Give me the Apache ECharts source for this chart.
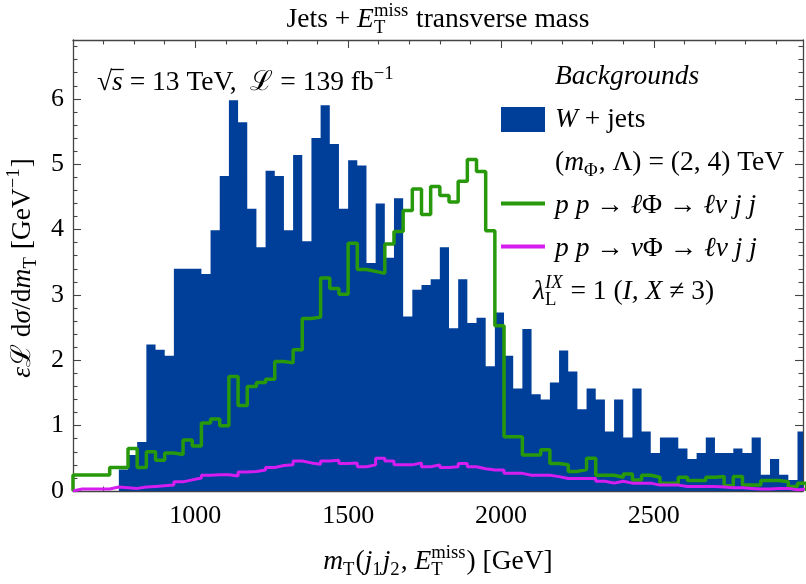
<!DOCTYPE html>
<html><head><meta charset="utf-8">
<script src="https://cdn.jsdelivr.net/npm/echarts@6/dist/echarts.min.js"></script>
<style>html,body{margin:0;padding:0;background:#fff}#c{width:806px;height:584px}</style>
</head><body><div id="c"></div>
<script>
// ---- data ----
const binStart = 600, binWidth = 30;
const wjets = [0,0,0,0,0, 0.33,0.55,0.75,2.24,2.16, 2.07,3.40,3.40,3.40,3.32, 3.99,4.82,5.98,5.64,4.32,
  3.73,4.90,4.82,3.99,5.14, 3.82,5.40,5.90,5.31,4.32, 5.06,4.98,3.49,4.40,3.57, 4.48,2.67,3.08,3.15,3.24,
  3.73,2.49,3.24,2.57,2.65, 1.91,2.73,2.07,1.57,2.48, 1.48,1.40,1.66,2.15,1.83, 1.25,1.57,1.40,0.91,1.40,
  0.82,1.57,0.91,0.58,0.82, 0.82,0.65,0.49,0.58,0.82, 0.58,0.58,0.65,0.58,0.82, 0.25,0.49,0.25,0.17,0.91];
const lPhi = [0.245,0.245,0.245,0.245,0.36, 0.36,0.65,0.36,0.60,0.47, 0.58,0.56,0.78,0.69,1.04, 1.10,1.00,1.75,1.31,1.60,
  1.66,1.71,1.98,1.96,2.16, 2.64,2.66,3.26,3.10,3.01, 3.79,3.39,3.36,3.33,3.78, 3.97,4.29,4.62,4.23,4.66,
  4.52,4.42,4.74,5.07,4.89, 3.98,2.53,0.83,0.83,0.55, 0.55,0.63,0.42,0.40,0.30, 0.33,0.50,0.24,0.24,0.21,
  0.26,0.17,0.24,0.21,0.12, 0.12,0.21,0.16,0.16,0.21, 0.22,0.08,0.22,0.09,0.09, 0.16,0.16,0.14,0.07,0.12];
const nuPhi = [0.03,0.03,0.03,0.03,0.06, 0.05,0.04,0.06,0.07,0.08, 0.09,0.14,0.17,0.20,0.24, 0.25,0.25,0.23,0.29,0.30,
  0.32,0.36,0.39,0.40,0.46, 0.43,0.41,0.46,0.47,0.42, 0.43,0.37,0.40,0.50,0.46, 0.40,0.40,0.43,0.37,0.40,
  0.36,0.37,0.42,0.37,0.34, 0.32,0.32,0.27,0.27,0.24, 0.24,0.24,0.22,0.19,0.19, 0.19,0.19,0.15,0.12,0.15,
  0.12,0.12,0.12,0.09,0.09, 0.09,0.07,0.07,0.07,0.07, 0.06,0.05,0.05,0.04,0.03, 0.03,0.04,0.04,0.02,0.03];
const xTickLabels = [1000, 1500, 2000, 2500];
const yTickLabels = [0, 1, 2, 3, 4, 5, 6];
const xRange = [600, 2988];
const yRange = [0, 6.9];

// ---- helpers ----
const xMinor = []; for (let v = 700; v < xRange[1]; v += 100) if (v % 500) xMinor.push(v);
const yMinor = []; for (let i = 1; i <= 34; i++) if (i % 5) yMinor.push(+(i * 0.2).toFixed(1));
function stepData(vals) {
  const d = [[binStart, 0]];
  vals.forEach((v, i) => d.push([binStart + i * binWidth, v]));
  const end = binStart + vals.length * binWidth;
  d.push([end, vals[vals.length - 1]]); d.push([end, 0]);
  return d;
}
const FONT = '"Liberation Serif", "DejaVu Serif", serif';
const FS = 27.5;
const mctx = document.createElement('canvas').getContext('2d');
function tw(t, fs, it) { mctx.font = (it ? 'italic ' : '') + fs + 'px ' + FONT; return mctx.measureText(t).width; }
function T(t, x, y, fs, it) {
  return { type: 'text', x: x, y: y, silent: true,
    style: { text: t, fontSize: fs, fontFamily: FONT, fontStyle: it ? 'italic' : 'normal', fill: '#000', verticalAlign: 'middle', align: 'left' } };
}
function math(pieces, S, align) {
  const kids = []; let x = 0; const s = S * 0.68;
  for (const p of pieces) {
    if (Array.isArray(p)) { kids.push(T(p[0], x, -0.3 * S, S, p[1])); x += tw(p[0], S, p[1]); }
    else {
      let w = 0;
      if (p.sup) { kids.push(T(p.sup[0], x, -0.42 * S - 0.3 * s, s, p.sup[1])); w = Math.max(w, tw(p.sup[0], s, p.sup[1])); }
      if (p.sub) { kids.push(T(p.sub[0], x, 0.2 * S - 0.3 * s, s, p.sub[1])); w = Math.max(w, tw(p.sub[0], s, p.sub[1])); }
      x += w + 1;
    }
  }
  const off = align === 'center' ? -x / 2 : 0;
  kids.forEach(k => k.x += off);
  return kids;
}
function grp(kids, x, y, rot) { return { type: 'group', x: x, y: y, rotation: rot || 0, children: kids }; }

const blue = '#003f99', green = '#27990b', magenta = '#d51df0', frame = '#444';
const lab = { fontSize: 26, fontFamily: FONT, color: '#000', formatter: v => String(v) };
function xAx(pos, ticks, len, line, labels) {
  return { type: 'value', position: pos, min: xRange[0], max: xRange[1],
    axisLine: { show: line, onZero: false, lineStyle: { color: frame, width: 1.3 } },
    axisTick: { show: true, inside: true, length: len, customValues: ticks, lineStyle: { color: frame, width: 1.1 } },
    axisLabel: labels ? Object.assign({ customValues: ticks, margin: 12 }, lab) : { show: false },
    splitLine: { show: false } };
}
function yAx(pos, ticks, len, line, labels) {
  return { type: 'value', position: pos, min: yRange[0], max: yRange[1],
    axisLine: { show: line, onZero: false, lineStyle: { color: frame, width: 1.3 } },
    axisTick: { show: true, inside: true, length: len, customValues: ticks, lineStyle: { color: frame, width: 1.1 } },
    axisLabel: labels ? Object.assign({ customValues: ticks, margin: 9 }, lab) : { show: false },
    splitLine: { show: false } };
}

const sqrtX = 97 + tw('√', FS, false) - 1;
const graphics = [
  grp(math([['Jets + ', false], ['E', true], { sup: ['miss', false], sub: ['T', false] }, [' transverse mass', false]], FS, 'center'), 438, 28),
  grp(math([['√', false], ['s', true], [' = 13 TeV,  ', false], ['ℒ', false], [' = 139 fb', false], { sup: ['−1', false] }], FS), 97, 91),
  { type: 'line', shape: { x1: sqrtX, y1: 69.5, x2: sqrtX + tw('s', FS, true) + 2, y2: 69.5 }, style: { stroke: '#000', lineWidth: 1.3 } },
  grp(math([['Backgrounds', true]], FS), 555, 85),
  { type: 'rect', shape: { x: 501, y: 107, width: 44, height: 25 }, style: { fill: blue } },
  grp(math([['W', true], [' + jets', false]], FS), 555, 128),
  grp(math([['(', false], ['m', true], { sub: ['Φ', false] }, [', Λ) = (2, 4) TeV', false]], FS), 555, 171),
  { type: 'line', shape: { x1: 501, y1: 203.5, x2: 545, y2: 203.5 }, style: { stroke: green, lineWidth: 4 } },
  grp(math([['p p', true], [' → ', false], ['ℓ', true], ['Φ', false], [' → ', false], ['ℓν j j', true]], FS), 555, 214),
  { type: 'line', shape: { x1: 501, y1: 246.5, x2: 545, y2: 246.5 }, style: { stroke: magenta, lineWidth: 4 } },
  grp(math([['p p', true], [' → ', false], ['ν', true], ['Φ', false], [' → ', false], ['ℓν j j', true]], FS), 555, 257),
  grp(math([['λ', true], { sup: ['IX', true], sub: ['L', false] }, [' = 1 (', false], ['I, X', true], [' ≠ 3)', false]], FS), 533, 300),
  grp(math([['m', true], { sub: ['T', false] }, ['(', false], ['j', true], { sub: ['1', false] }, ['j', true], { sub: ['2', false] }, [', ', false], ['E', true], { sup: ['miss', false], sub: ['T', false] }, [') [GeV]', false]], FS, 'center'), 438, 570),
  grp(math([['ε', true], ['ℒ', false], [' d', false], ['σ', true], ['/d', false], ['m', true], { sub: ['T', false] }, [' [GeV', false], { sup: ['−1', false] }, [']', false]], FS, 'center'), 31, 268, Math.PI / 2)
];

const chart = echarts.init(document.getElementById('c'), null, { renderer: 'canvas' });
chart.setOption({
  animation: false,
  backgroundColor: '#fff',
  grid: { left: 73, right: 3, top: 40, bottom: 93, containLabel: false, outerBoundsMode: 'none' },
  xAxis: [xAx('bottom', xTickLabels, 8, true, true), xAx('bottom', xMinor, 4.5, false, false),
          xAx('top', xTickLabels, 8, true, false), xAx('top', xMinor, 4.5, false, false)],
  yAxis: [yAx('left', yTickLabels, 8, true, true), yAx('left', yMinor, 4.5, false, false),
          yAx('right', yTickLabels, 8, true, false), yAx('right', yMinor, 4.5, false, false)],
  series: [
    { type: 'line', name: 'W + jets', step: 'end', data: stepData(wjets), symbol: 'none',
      lineStyle: { width: 0, color: blue }, areaStyle: { color: blue, opacity: 1 }, z: 1, clip: true },
    { type: 'line', name: 'lPhi', step: 'end', data: stepData(lPhi), symbol: 'none',
      lineStyle: { width: 3.5, color: green }, z: 3, clip: true },
    { type: 'line', name: 'nuPhi', step: 'end', data: stepData(nuPhi), symbol: 'none',
      lineStyle: { width: 3, color: magenta }, z: 4, clip: true }
  ],
  graphic: graphics
});
</script></body></html>
